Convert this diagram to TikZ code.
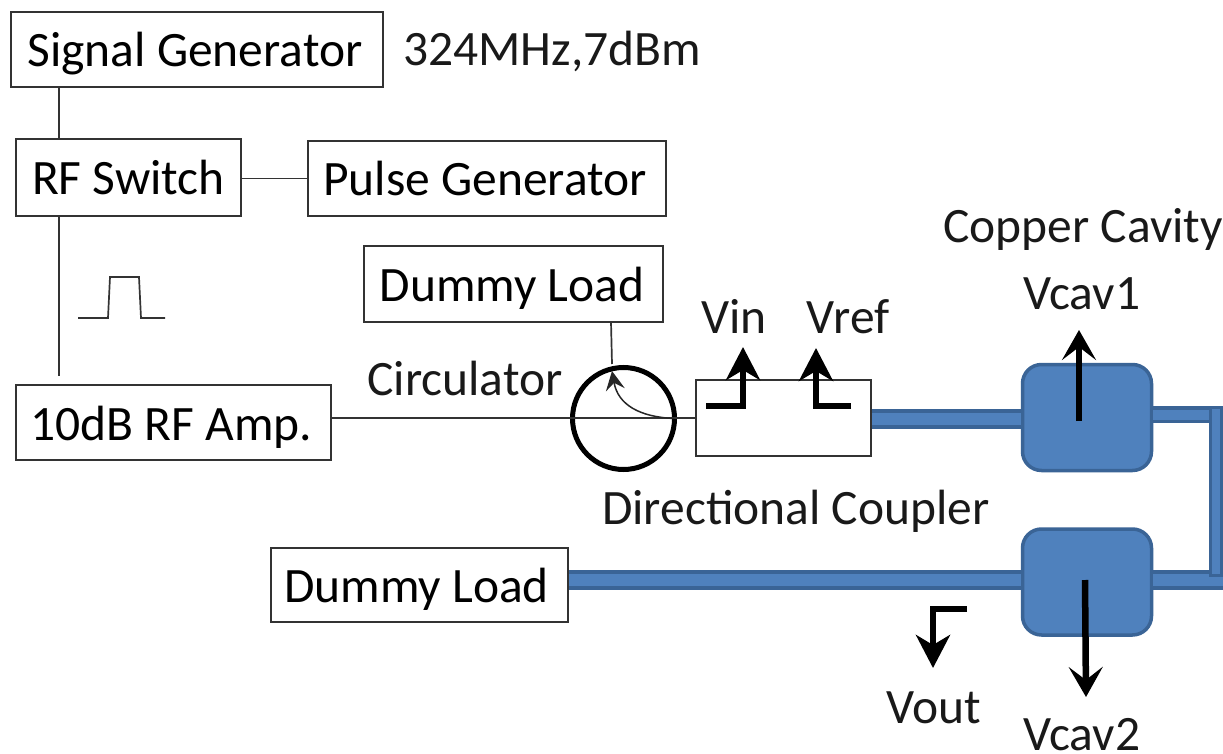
\documentclass[tikz,border=0pt]{standalone}
\usepackage{fontspec}
\setmainfont{Carlito}
\usetikzlibrary{arrows.meta,calc}
\definecolor{pipefill}{HTML}{4F81BD}
\definecolor{pipeedge}{HTML}{3A6496}

\begin{document}
\begin{tikzpicture}[
    x=1pt, y=-1pt,
    font=\fontsize{49.5}{49.5}\selectfont,
    wire/.style={line width=1.7pt, draw=black!80},
    box/.style={draw=black!80, line width=1.5pt, fill=white, inner sep=0pt, align=center, text height=35pt, text depth=0pt},
    label/.style={inner sep=0pt, text=black!90, text height=31pt, text depth=0pt},
    % Microwave parts
    cavity/.style={draw=pipeedge, fill=pipefill, line width=3.5pt, rounded corners=19pt, minimum width=129pt, minimum height=106pt, inner sep=0pt},
    pipe/.style={draw=pipeedge, double=pipefill, line width=3.5pt, double distance=12.5pt},
    riser/.style={draw=pipeedge, fill=pipefill, line width=3pt, minimum width=11pt, minimum height=168pt, inner sep=0pt},
    % Probes
    probe/.style={-{Stealth[length=33pt, width=34pt, inset=10pt]}, line width=6.5pt, draw=black},
    thinprobe/.style={-{Stealth[length=30pt, width=34pt, inset=13pt]}, line width=6.5pt, draw=black},
    turn/.style={-{Stealth[length=19pt, width=19pt, inset=7pt]}, line width=1.5pt, draw=black!85}
]
\useasboundingbox (0,0) rectangle (1223,754);

% --- Signal chain ---
\node[box, minimum width=372pt, minimum height=75pt] (siggen) at (197,49.5) {\kern-4pt Signal Generator};
\node[box, minimum width=225pt, minimum height=77pt] (rfswitch) at (128.5,177.5) {RF Switch};
\node[box, minimum width=358pt, minimum height=75pt] (pulsegen) at (487,178.5) {\kern-4pt Pulse Generator};
\node[box, minimum width=315pt, minimum height=75pt] (rfamp) at (173.5,422.5) {\kern-4pt 10dB RF Amp.};
\node[box, minimum width=299pt, minimum height=76pt] (dummytop) at (513.5,284) {\kern-3pt Dummy Load};
\node[box, minimum width=175pt, minimum height=76pt] (coupler) at (783.5,418) {};
\node[draw=black, line width=5pt, circle, minimum size=102pt, inner sep=0pt] (circ) at (623.5,418.5) {};
\node[box, minimum width=297pt, minimum height=74pt] (dummybot) at (419.5,585) {\kern-6pt Dummy Load};

\coordinate (ampstub) at (59,376);
\draw[wire] (siggen.south -| ampstub) -- (rfswitch.north -| ampstub);
\draw[wire] (rfswitch.south -| ampstub) -- (ampstub);
\draw[wire] (rfswitch.east |- pulsegen.west) -- (pulsegen.west);
\draw[wire] (rfamp.east |- coupler.west) -- (coupler.west);
\draw[wire] (611,322) -- (612,364);
\draw[turn] (674,418.5) .. controls (640,417) and (618,405) .. (612,371);

% pulse shape
\coordinate (pulsea) at (78,318);
\coordinate (pulseb) at (165,318);
\draw[wire] (pulsea) -- (108,318) -- (110,277) -- (139,277) -- (141,318) -- (pulseb);

% --- Cavities and pipes ---
\node[cavity] (cavone) at (1087,417.5) {};
\node[cavity] (cavtwo) at (1087,582) {};
\draw[pipe] (coupler.east |- 0,419) -- (cavone.west |- 0,419);
\draw[pipe, double distance=10pt] (cavone.east |- 0,414.5) -- (1223,414.5);
\draw[pipe] (cavtwo.east |- 0,580) -- (1223,580);
\draw[pipe] (dummybot.east |- 0,580) -- (cavtwo.west |- 0,580);
\node[riser] (riser) at (1216,491.5) {};

% --- Probes ---
\draw[probe] (706,406) -- (743,406) -- (743,347);
\draw[probe] (851,406) -- (816,406) -- (816,348);
\draw[thinprobe] (1079,421) -- (1079,330);
\draw[thinprobe] (1085,580) -- (1086,697);
\draw[probe] (967,609) -- (933,609) -- (933,668);

% --- Labels ---
\node[label, anchor=west] (rfspec) at (403,50) {324MHz,7dBm};
\node[label, anchor=west] (cavname) at (943,227) {Copper Cavity};
\node[label] (vcavone) at (1082,294) {Vcav1};
\node[label] (vin) at (734,318) {Vin};
\node[label] (vref) at (848,318) {Vref};
\node[label] (circname) at (465,380) {Circulator};
\node[label] (coupname) at (796,509) {Directional Coupler};
\node[label] (vout) at (934,708) {Vout};
\node[label] (vcavtwo) at (1082,735) {Vcav2};

\end{tikzpicture}
\end{document}
